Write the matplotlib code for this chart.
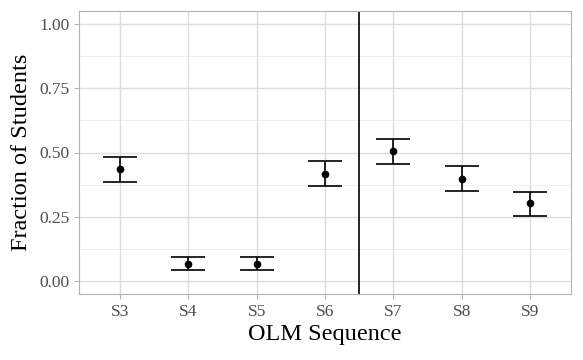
import numpy as np
import matplotlib.pyplot as plt

sequences = ["S3", "S4", "S5", "S6", "S7", "S8", "S9"]
fraction = [0.437, 0.068, 0.068, 0.418, 0.504, 0.397, 0.302]
lower = [0.387, 0.044, 0.044, 0.369, 0.456, 0.349, 0.255]
upper = [0.484, 0.094, 0.094, 0.466, 0.553, 0.446, 0.345]

plt.rcParams["font.family"] = ["Liberation Serif", "DejaVu Serif"]

fig = plt.figure(figsize=(5.83, 3.6), dpi=100)
ax = fig.add_axes([79 / 583, 1 - 294 / 360, (571 - 79) / 583, (294 - 11) / 360])

x = np.arange(1, len(sequences) + 1)
frac = np.array(fraction)
yerr = [frac - np.array(lower), np.array(upper) - frac]

# minor + major grid, ggplot theme_light style
for v in [0.125, 0.375, 0.625, 0.875]:
    ax.axhline(v, color="#ebebeb", linewidth=0.6, zorder=0)
for v in [0, 0.25, 0.5, 0.75, 1.0]:
    ax.axhline(v, color="#dedede", linewidth=1.0, zorder=0)
for v in x:
    ax.axvline(v, color="#dedede", linewidth=1.0, zorder=0)

ax.errorbar(x, frac, yerr=yerr, fmt="none", ecolor="black", elinewidth=1.2,
            capsize=12.3, capthick=1.2, zorder=3)
ax.plot(x, frac, "o", color="black", markersize=4.5, zorder=4)
ax.axvline(4.5, color="black", linewidth=1.2, zorder=2)

ax.set_xlim(0.4, 7.6)
ax.set_ylim(-0.05, 1.05)
ax.set_xticks(x)
ax.set_xticklabels(sequences)
ax.set_yticks([0, 0.25, 0.5, 0.75, 1.0])
ax.set_yticklabels(["0.00", "0.25", "0.50", "0.75", "1.00"])

ax.tick_params(axis="both", colors="#b3b3b3", length=3.5, width=0.8,
               labelcolor="#4d4d4d", labelsize=12.5)
for s in ax.spines.values():
    s.set_color("#b3b3b3")
    s.set_linewidth(0.8)

ax.set_xlabel("OLM Sequence", fontsize=17.5, labelpad=3)
ax.set_ylabel("Fraction of Students", fontsize=17.5, labelpad=5)

fig.savefig("out.png", dpi=100)
